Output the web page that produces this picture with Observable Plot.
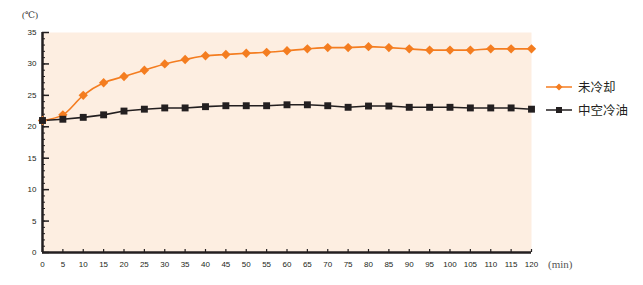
<!DOCTYPE html>
<html><head><meta charset="utf-8">
<script src="https://cdn.jsdelivr.net/npm/d3@7"></script>
<script src="https://cdn.jsdelivr.net/npm/@observablehq/plot@0.6"></script>
<style>
body{margin:0;background:#fff;}
#wrap{position:relative;width:643px;height:285px;font-family:"Liberation Sans",Arial,sans-serif;}
#legend{position:absolute;left:546px;top:75px;font-family:"Noto Sans CJK SC",sans-serif;font-size:12.5px;color:#231f20;}
#legend .row{display:flex;align-items:center;height:23px;}
#legend svg{margin-right:6px;}
#unitY{position:absolute;left:22px;top:10px;font-size:9px;color:#333;font-family:"Liberation Serif","DejaVu Serif",serif;}
#unitX{position:absolute;left:548px;top:258px;font-size:11px;color:#555;font-family:"Liberation Serif","DejaVu Serif",serif;}
</style></head>
<body><div id="wrap"><div id="unitY">(℃)</div><div id="unitX">(min)</div><div id="legend"></div></div>
<script>
const minutes = [0,5,10,15,20,25,30,35,40,45,50,55,60,65,70,75,80,85,90,95,100,105,110,115,120];
const uncooled = [21.0,21.9,25.0,27.0,28.0,29.0,30.0,30.7,31.3,31.5,31.7,31.85,32.1,32.4,32.6,32.6,32.75,32.6,32.4,32.2,32.2,32.2,32.4,32.4,32.4];
const hollowOil = [21.0,21.2,21.5,21.9,22.5,22.8,23.0,23.0,23.2,23.35,23.35,23.35,23.5,23.5,23.35,23.1,23.3,23.3,23.1,23.1,23.1,23.0,23.0,23.0,22.8];
const seriesNames = ["未冷却","中空冷油"];
const seriesColors = ["#f47d20","#231f20"];
const xTicks = d3.range(0,121,5);
const yTicks = d3.range(0,36,5);
const yMinor = d3.range(0,36,1);

const data = [];
minutes.forEach((m,i)=>{
  data.push({t:m, v:uncooled[i], s:seriesNames[0]});
  data.push({t:m, v:hollowOil[i], s:seriesNames[1]});
});
const orange = data.filter(d=>d.s===seriesNames[0]);
const black = data.filter(d=>d.s===seriesNames[1]);

const chart = Plot.plot({
  width:643, height:285,
  marginLeft:42, marginRight:112, marginTop:32, marginBottom:33,
  style:{fontFamily:"Liberation Sans, Arial, sans-serif", fontSize:"8px", color:"#231f20", background:"transparent"},
  x:{domain:[0,120], label:null},
  y:{domain:[0,35], label:null},
  marks:[
    Plot.frame({fill:"#fdeee1", stroke:"none"}),
    Plot.axisY({ticks:yMinor, tickSize:-3, text:null, label:null, stroke:"#231f20", strokeWidth:1}),
    Plot.axisY({ticks:yTicks, tickSize:-7, text:null, label:null, stroke:"#231f20", strokeWidth:1.5}),
    Plot.axisY({ticks:yTicks, tickSize:0, tickPadding:6, label:null, fill:"#231f20"}),
    Plot.axisX({ticks:xTicks, tickSize:-3, text:null, label:null, stroke:"#231f20", strokeWidth:1.2}),
    Plot.axisX({ticks:xTicks, tickSize:0, tickPadding:9, label:null, fill:"#231f20"}),
    Plot.ruleY([0], {stroke:"#231f20", strokeWidth:2.5}),
    Plot.ruleX([0], {stroke:"#231f20", strokeWidth:2.5}),
    Plot.line(orange, {x:"t", y:"v", stroke:seriesColors[0], strokeWidth:1.6, curve:"monotone-x"}),
    Plot.line(black, {x:"t", y:"v", stroke:seriesColors[1], strokeWidth:1.6}),
    Plot.dot(orange, {x:"t", y:"v", symbol:"diamond2", fill:seriesColors[0], r:4.2, stroke:"none"}),
    Plot.dot(black, {x:"t", y:"v", symbol:"square", fill:seriesColors[1], r:3.9, stroke:"none"})
  ]
});
document.getElementById("wrap").prepend(chart);
chart.style.position="absolute"; chart.style.left="0"; chart.style.top="0";

const lg = document.getElementById("legend");
seriesNames.forEach((n,i)=>{
  const row = document.createElement("div"); row.className="row";
  const mk = i===0
    ? `<polygon points="13,1.5 16.5,5 13,8.5 9.5,5" fill="${seriesColors[i]}"/>`
    : `<rect x="10" y="2" width="6" height="6" fill="${seriesColors[i]}"/>`;
  row.innerHTML = `<svg width="26" height="10"><line x1="0" x2="26" y1="5" y2="5" stroke="${seriesColors[i]}" stroke-width="1.5"/>${mk}</svg><span>${n}</span>`;
  lg.appendChild(row);
});
</script>
</body></html>
